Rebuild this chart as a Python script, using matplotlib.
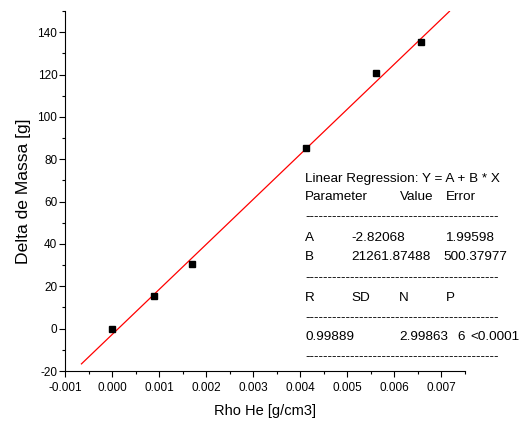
import matplotlib
matplotlib.use("Agg")
import matplotlib.pyplot as plt
import numpy as np
from matplotlib.ticker import MultipleLocator, FormatStrFormatter
from matplotlib import font_manager

plt.rcParams['font.family'] = ['Liberation Sans', 'DejaVu Sans']
plt.rcParams['axes.unicode_minus'] = False

try:
    font_manager.findfont('Liberation Sans Narrow', fallback_to_default=False)
    NARROW = True
except Exception:
    NARROW = False

rho_he = [0.0, 0.0009, 0.0017, 0.00413, 0.00562, 0.00657]
delta_massa = [0.0, 15.4, 30.6, 85.5, 120.5, 135.3]
fit_A = -2.82068
fit_B = 21261.87488
fit_x_range = [-0.00065, 0.00718]

W, H = 519, 425
fig = plt.figure(figsize=(W / 100, H / 100), dpi=100)
ax = fig.add_axes([65 / W, 1 - 371 / H, (464.5 - 65) / W, (371 - 11) / H])

xf = np.array(fit_x_range)
ax.plot(xf, fit_A + fit_B * xf, color='red', lw=0.9, zorder=2)
ax.plot(rho_he, delta_massa, 's', color='black', ms=4.6, zorder=3)

ax.set_xlim(-0.001, 0.0075)
ax.set_ylim(-20, 150)
ax.xaxis.set_major_locator(MultipleLocator(0.001))
ax.xaxis.set_minor_locator(MultipleLocator(0.0005))
ax.xaxis.set_major_formatter(FormatStrFormatter('%.3f'))
ax.set_yticks([-20, 0, 20, 40, 60, 80, 100, 120, 140])
ax.yaxis.set_minor_locator(MultipleLocator(10))
for s in ['top', 'right']:
    ax.spines[s].set_visible(False)
ax.tick_params(which='major', direction='out', length=4, width=0.8, labelsize=8.5)
ax.tick_params(which='minor', direction='out', length=2.4, width=0.8)
ax.tick_params(axis='y', which='major', pad=1.5)
ax.tick_params(axis='x', which='major', pad=4)

if NARROW:
    ax.set_xlabel('Rho He [g/cm3]', fontsize=12, family=['Liberation Sans Narrow', 'Liberation Sans'], labelpad=6)
else:
    ax.set_xlabel('Rho He [g/cm3]', fontsize=10.5, labelpad=7)
ax.set_ylabel('Delta de Massa [g]', fontsize=12.6, labelpad=5)

def ftext(x, y, s, **kw):
    fig.text(x / W, 1 - y / H, s, va='center', ha='left', fontsize=9.7, **kw)

dash = '-' * 43
ftext(305, 179, 'Linear Regression: Y = A + B * X')
param_header = ['Parameter', 'Value', 'Error']
for s, xx in zip(param_header, [305, 400, 446]):
    ftext(xx, 197.5, s)
ftext(305, 217, dash)
params = ['A', 'B']
values = ['-2.82068', '21261.87488']
errors = ['1.99598', '500.37977']
for i, yy in enumerate([238, 257]):
    ftext(305, yy, params[i]); ftext(351, yy, values[i]); ftext(445 if i == 0 else 443, yy, errors[i])
ftext(305, 278, dash)
stat_header = ['R', 'SD', 'N', 'P']
for s, xx in zip(stat_header, [305, 351, 399, 446]):
    ftext(xx, 298, s)
ftext(305, 318, dash)
stats = ['0.99889', '2.99863', '6', '<0.0001']
for s, xx in zip(stats, [305, 399, 457, 470]):
    ftext(xx, 337, s)
ftext(305, 357, dash)

fig.savefig('out.png', dpi=100)
